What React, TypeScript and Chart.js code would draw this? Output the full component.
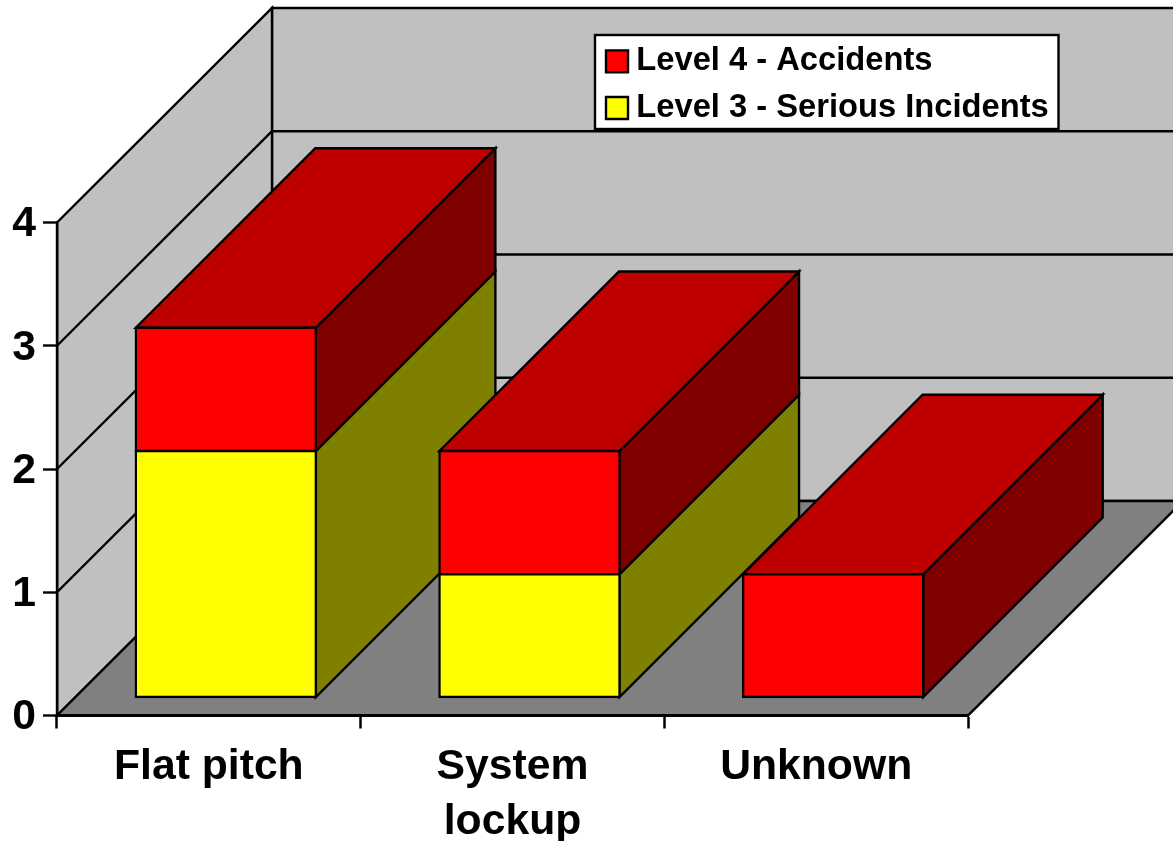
import React, { useEffect, useRef } from "react";
import { Chart, registerables } from "chart.js";

Chart.register(...registerables);

const categories: (string | string[])[] = ["Flat pitch", ["System", "lockup"], "Unknown"];
const level3Values = [2, 1, 0];
const level4Values = [1, 1, 1];
const level3Label = "Level 3 - Serious Incidents";
const level4Label = "Level 4 - Accidents";
const yTicks = [0, 1, 2, 3, 4];

const FONT = "'Liberation Sans', Arial, sans-serif";
const WALL = "#C0C0C0";
const FLOOR = "#808080";
const LINE = "#000000";
const LINE_W = 2.4;
const DEPTH_X = 215; // depth of the 3D box
const DEPTH_Y = 214.5;
const BAR_OFFSET_X = 17; // bars sit this far behind the front plane
const BAR_OFFSET_Y = 18;
const BAR_DEPTH = 179.5;

const sideColors: Record<number, string> = { 0: "#808000", 1: "#800000" };
const topColors: Record<number, string> = { 0: "#BFBF00", 1: "#BF0000" };

const poly = (ctx: CanvasRenderingContext2D, pts: number[][], fill: string) => {
  ctx.beginPath();
  pts.forEach((p, i) => (i ? ctx.lineTo(p[0], p[1]) : ctx.moveTo(p[0], p[1])));
  ctx.closePath();
  ctx.fillStyle = fill;
  ctx.fill();
  ctx.stroke();
};

const threeD = {
  id: "threeD",
  afterLayout(chart: any) {
    const legend = chart.legend;
    if (legend) {
      legend.left = 600;
      legend.right = 1050;
      legend.top = 31;
      legend.bottom = 200;
      legend.width = 450;
      legend.height = 169;
    }
  },
  beforeDraw(chart: any) {
    const { ctx, chartArea: a, scales } = chart;
    const y = scales.y;
    const top = a.top;
    const bottom = a.bottom;
    const l = a.left;
    const r = a.right;
    const dx = DEPTH_X;
    const dy = DEPTH_Y;
    ctx.save();
    ctx.lineWidth = LINE_W;
    ctx.strokeStyle = LINE;
    ctx.lineJoin = "miter";
    // back wall
    poly(ctx, [[l + dx, top - dy], [r + dx, top - dy], [r + dx, bottom - dy], [l + dx, bottom - dy]], WALL);
    // side wall
    poly(ctx, [[l, top], [l + dx, top - dy], [l + dx, bottom - dy], [l, bottom]], WALL);
    // floor
    poly(ctx, [[l, bottom], [l + dx, bottom - dy], [r + dx, bottom - dy], [r, bottom]], FLOOR);
    // grid on walls
    yTicks.slice(1, -1).forEach((v) => {
      const py = y.getPixelForValue(v);
      ctx.beginPath();
      ctx.moveTo(l, py);
      ctx.lineTo(l + dx, py - dy);
      ctx.lineTo(r + dx, py - dy);
      ctx.stroke();
    });
    // legend frame
    ctx.fillStyle = "#FFFFFF";
    ctx.fillRect(595, 35, 463.5, 94);
    ctx.strokeRect(595, 35, 463.5, 94);
    ctx.restore();
  },
  beforeDatasetsDraw(chart: any) {
    const { ctx } = chart;
    const n = chart.data.labels.length;
    const count = chart.data.datasets.length;
    const e = BAR_DEPTH;
    ctx.save();
    ctx.translate(BAR_OFFSET_X, -BAR_OFFSET_Y);
    ctx.lineWidth = LINE_W;
    ctx.strokeStyle = LINE;
    ctx.lineJoin = "miter";
    for (let i = 0; i < n; i++) {
      let topIdx = -1;
      for (let s = 0; s < count; s++) {
        if (chart.data.datasets[s].data[i] > 0) topIdx = s;
      }
      for (let s = 0; s < count; s++) {
        if (!(chart.data.datasets[s].data[i] > 0)) continue;
        const b = chart.getDatasetMeta(s).data[i];
        const left = b.x - b.width / 2;
        const right = b.x + b.width / 2;
        poly(ctx, [[right, b.y], [right + e, b.y - e], [right + e, b.base - e], [right, b.base]], sideColors[s]);
        if (s === topIdx) {
          poly(ctx, [[left, b.y], [left + e, b.y - e], [right + e, b.y - e], [right, b.y]], topColors[s]);
        }
      }
    }
    ctx.restore();
  },
  beforeDatasetDraw(chart: any) {
    chart.ctx.save();
    chart.ctx.translate(BAR_OFFSET_X, -BAR_OFFSET_Y);
  },
  afterDatasetDraw(chart: any) {
    chart.ctx.restore();
  },
};

export default function App() {
  const ref = useRef<HTMLCanvasElement>(null);
  useEffect(() => {
    document.body.style.margin = "0";
    const chart = new Chart(ref.current as HTMLCanvasElement, {
      type: "bar",
      data: {
        labels: categories as any,
        datasets: [
          {
            label: level3Label,
            data: level3Values,
            backgroundColor: "#FFFF00",
            borderColor: LINE,
            borderWidth: LINE_W,
            borderSkipped: false,
            inflateAmount: LINE_W / 2,
            clip: false,
          } as any,
          {
            label: level4Label,
            data: level4Values,
            backgroundColor: "#FF0000",
            borderColor: LINE,
            borderWidth: LINE_W,
            borderSkipped: false,
            inflateAmount: LINE_W / 2,
            clip: false,
          } as any,
        ],
      },
      options: {
        responsive: false,
        animation: false,
        events: [],
        layout: { padding: { left: 0, top: 222.5, right: 205, bottom: 0 } },
        datasets: { bar: { barPercentage: 0.593, categoryPercentage: 1 } },
        plugins: {
          tooltip: { enabled: false },
          title: { display: false },
          legend: {
            display: true,
            position: "chartArea",
            align: "start",
            reverse: true,
            labels: {
              usePointStyle: true,
              pointStyle: "rect",
              boxWidth: 6,
              boxHeight: 22,
              padding: 14,
              color: "#000000",
              font: { family: FONT, size: 32.7, weight: "bold" },
            },
          },
        },
        scales: {
          x: {
            stacked: true,
            grid: {
              offset: true,
              drawOnChartArea: false,
              drawTicks: true,
              tickLength: 13,
              tickWidth: 2.5,
              tickColor: LINE,
            },
            border: { display: true, color: LINE, width: 3 },
            ticks: {
              color: "#000000",
              maxRotation: 0,
              autoSkip: false,
              padding: 11.5,
              font: { family: FONT, size: 42.7, weight: "bold", lineHeight: 1.28 },
            },
            afterFit(s: any) {
              s.height = 125.5;
            },
          },
          y: {
            stacked: true,
            min: 0,
            max: 4,
            afterBuildTicks(s: any) {
              s.ticks = yTicks.map((value) => ({ value }));
            },
            grid: {
              drawOnChartArea: false,
              drawTicks: true,
              tickLength: 14,
              tickWidth: 2.4,
              tickColor: LINE,
            },
            border: { display: true, color: LINE, width: 2.4 },
            ticks: {
              color: "#000000",
              padding: 7,
              labelOffset: 2,
              font: { family: FONT, size: 42.7, weight: "bold" },
            },
            afterFit(s: any) {
              s.width = 57;
            },
          },
        },
      } as any,
      plugins: [threeD],
    });
    return () => chart.destroy();
  }, []);
  return <canvas ref={ref} width={1173} height={841} style={{ display: "block" }} />;
}
